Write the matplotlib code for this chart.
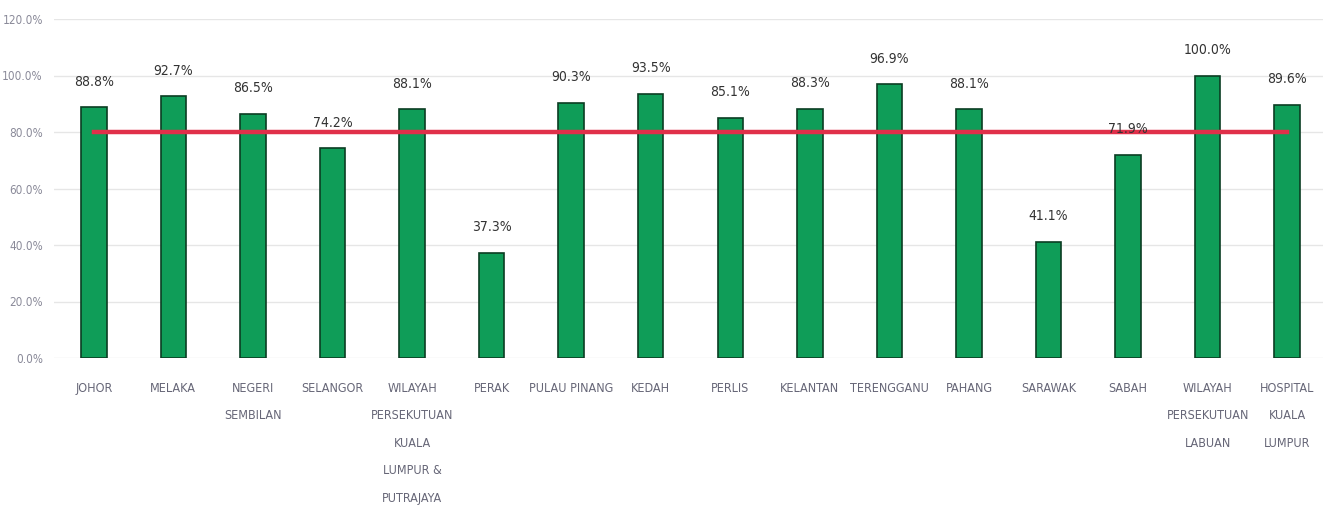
import matplotlib.pyplot as plt
import numpy as np

states = ['JOHOR', 'MELAKA', 'NEGERI\nSEMBILAN', 'SELANGOR',
          'WILAYAH\nPERSEKUTUAN\nKUALA\nLUMPUR &\nPUTRAJAYA', 'PERAK',
          'PULAU PINANG', 'KEDAH', 'PERLIS', 'KELANTAN', 'TERENGGANU',
          'PAHANG', 'SARAWAK', 'SABAH', 'WILAYAH\nPERSEKUTUAN\nLABUAN',
          'HOSPITAL\nKUALA\nLUMPUR']
pct = [88.8, 92.7, 86.5, 74.2, 88.1, 37.3, 90.3, 93.5, 85.1, 88.3,
       96.9, 88.1, 41.1, 71.9, 100.0, 89.6]
target = 80.0

fnt = dict(fontfamily='DejaVu Sans', fontstretch='condensed')

fig = plt.figure(figsize=(13.23, 5.15), dpi=100)
ax = fig.add_axes([54 / 1323, 1 - 358 / 515, (1323 - 54) / 1323, 339 / 515])

x = np.arange(len(states))
ax.bar(x, pct, width=0.32, color='#0f9d58', edgecolor='#0b3d22', linewidth=1.2, zorder=2)

# target line
ax.plot([x[0], x[-1]], [target, target], color='#e0304a', linewidth=3.2, zorder=3)

for xi, v in zip(x, pct):
    ax.text(xi, v + 9, f'{v:.1f}%', ha='center', va='center', fontsize=10,
            color='#333333', zorder=4, **fnt)

ax.set_ylim(0, 120)
ax.set_xlim(-0.5, 15.45)
ax.set_yticks(np.arange(0, 121, 20))
ax.set_yticklabels([f'{t:.1f}%' for t in np.arange(0, 121, 20)],
                   fontsize=8.5, color='#8a8a99', **fnt)
ax.set_xticks(x)
ax.set_xticklabels(states, fontsize=9, color='#666677', linespacing=2.45, va='top', **fnt)
ax.tick_params(axis='both', length=0)
ax.tick_params(axis='x', pad=17)
ax.tick_params(axis='y', pad=8)
ax.grid(axis='y', color='#e6e6e6', linewidth=1, zorder=0)
for s in ax.spines.values():
    s.set_visible(False)

plt.savefig('out.png', dpi=100)
